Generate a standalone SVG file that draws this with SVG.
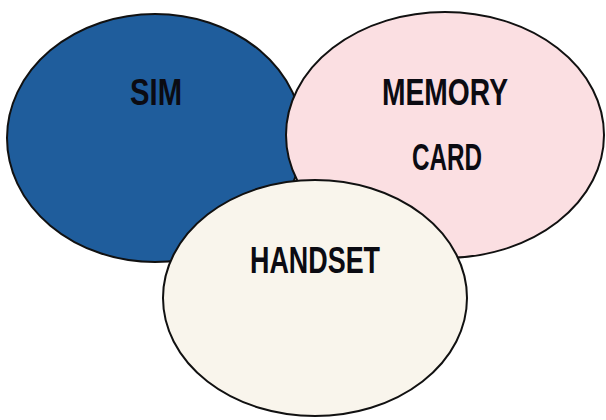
<svg xmlns="http://www.w3.org/2000/svg" width="606" height="420" viewBox="0 0 606 420">
<style>
.e{stroke:#111;stroke-width:2}
.t{font-family:"Liberation Sans",Arial,sans-serif;font-weight:bold;font-size:37px;fill:#0b0b12;text-anchor:middle}
</style>
<rect width="606" height="420" fill="#fff"/>
<g id="sim"><ellipse class="e" cx="155" cy="138" rx="148" ry="124" fill="#1f5d9c"/><text class="t" x="156" y="105" textLength="52" lengthAdjust="spacingAndGlyphs">SIM</text></g>
<g id="memory"><ellipse class="e" cx="445" cy="135" rx="159" ry="123" fill="#fbdfe2"/><text class="t" x="445" y="105" textLength="126" lengthAdjust="spacingAndGlyphs">MEMORY</text><text class="t" x="447" y="170" textLength="70" lengthAdjust="spacingAndGlyphs">CARD</text></g>
<g id="handset"><ellipse class="e" cx="315" cy="298" rx="152" ry="118" fill="#f9f5ec"/><text class="t" x="315" y="273" textLength="130" lengthAdjust="spacingAndGlyphs">HANDSET</text></g>
<g id="connectors"/>
</svg>
